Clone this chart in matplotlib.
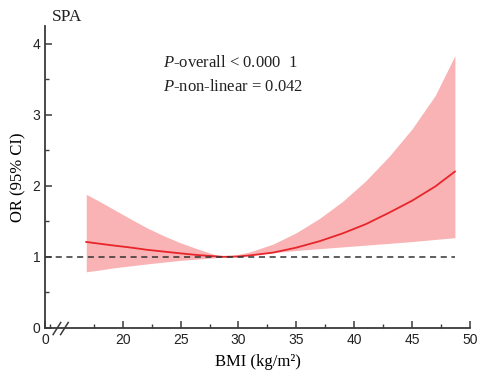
import numpy as np
import matplotlib.pyplot as plt

plt.rcParams['mathtext.fontset'] = 'custom'
plt.rcParams['mathtext.it'] = 'Liberation Serif:italic'
plt.rcParams['mathtext.rm'] = 'Liberation Serif'

# values
bmi = [16.85, 18.0, 19.2, 20.5, 22.07, 23.5, 24.95, 26.5, 27.8, 28.7,
       30.0, 31.0, 33.0, 35.0, 37.0, 39.0, 41.0, 43.0, 45.0, 47.0, 48.7]
or_est = [1.21, 1.185, 1.16, 1.135, 1.10, 1.075, 1.05, 1.025, 1.01, 1.00,
          1.005, 1.02, 1.06, 1.13, 1.22, 1.33, 1.46, 1.62, 1.79, 1.99, 2.20]
or_upper = [1.88, 1.78, 1.67, 1.55, 1.41, 1.30, 1.20, 1.11, 1.04, 1.00,
            1.035, 1.07, 1.18, 1.34, 1.54, 1.78, 2.07, 2.41, 2.80, 3.27, 3.83]
or_lower = [0.79, 0.815, 0.845, 0.87, 0.90, 0.925, 0.95, 0.97, 0.985, 1.00,
            1.015, 1.03, 1.06, 1.09, 1.115, 1.14, 1.165, 1.19, 1.215, 1.245, 1.27]

x_ticks = [13.29, 20, 25, 30, 35, 40, 45, 50]
x_labels = ['0', '20', '25', '30', '35', '40', '45', '50']
y_ticks = [0, 1, 2, 3, 4]

serif = 'Liberation Serif'
sans = 'Liberation Sans'
axis_color = '#3a3a3a'

fig = plt.figure(figsize=(4.81, 3.80), dpi=100)
ax = fig.add_axes([0.0936, 0.137, 0.8834, 0.795])

ax.fill_between(bmi, or_lower, or_upper, color='#f9b3b4', linewidth=0)
ax.plot(bmi, or_est, color='#e8252b', linewidth=1.3)
ax.plot([13.29, bmi[-1]], [1, 1], color='#333333', linestyle=(0, (4, 3)), linewidth=1.1)

ax.set_xlim(13.29, 50)
ax.set_ylim(0, 4.25)
ax.set_xticks(x_ticks)
ax.set_xticklabels(x_labels, fontfamily=sans, fontsize=10)
ax.set_xticks([13.72, 17.5, 22.5, 27.5, 32.5, 37.5, 42.5, 47.5], minor=True)
ax.set_yticks(y_ticks)
ax.set_yticklabels([str(v) for v in y_ticks], fontfamily=sans, fontsize=10)
ax.set_yticks([0.5, 1.5, 2.5, 3.5], minor=True)

ax.tick_params(which='both', direction='in', color=axis_color, labelcolor='#222222')
ax.tick_params(which='major', length=5, width=1.1)
ax.tick_params(which='minor', length=3, width=1.0)
for s in ['top', 'right']:
    ax.spines[s].set_visible(False)
for s in ['left', 'bottom']:
    ax.spines[s].set_color(axis_color)
    ax.spines[s].set_linewidth(1.3)

# axis break marks
for dx in [0, 7.5]:
    ax.plot([0.019 + dx / 425, 0.037 + dx / 425], [-0.022, 0.018], transform=ax.transAxes,
            color=axis_color, linewidth=1.1, clip_on=False)

ax.set_xlabel('BMI (kg/m²)', fontfamily=serif, fontsize=12, labelpad=5)
ax.set_ylabel('OR (95% CI)', fontfamily=serif, fontsize=12, labelpad=4)

fig.text(0.108, 0.945, 'SPA', fontfamily=serif, fontsize=12.5, color='#222222')
ax.text(0.277, 0.865, '$\\it{P}$-overall < 0.000  1', transform=ax.transAxes,
        fontfamily=serif, fontsize=12, color='#222222')
ax.text(0.277, 0.785, '$\\it{P}$-non-linear = 0.042', transform=ax.transAxes,
        fontfamily=serif, fontsize=12, color='#222222')

fig.savefig('out.png', dpi=100)
